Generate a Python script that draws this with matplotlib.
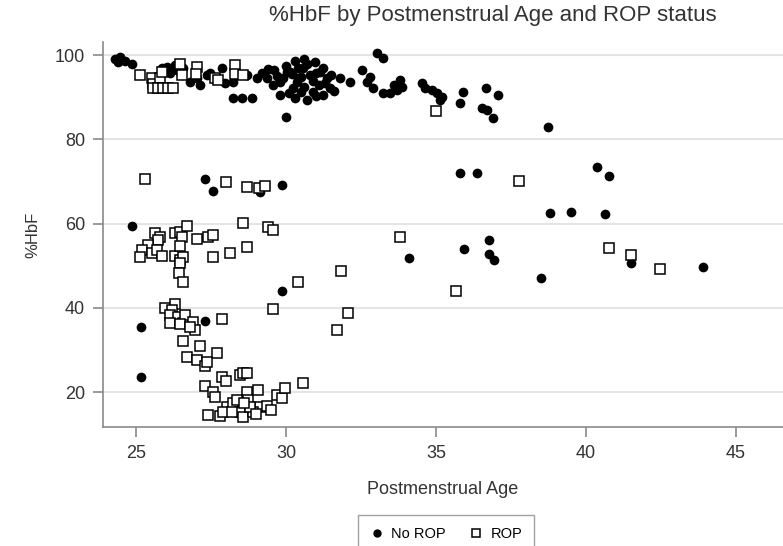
import matplotlib.pyplot as plt
from matplotlib.lines import Line2D

plt.rcParams['font.family'] = ['Liberation Sans', 'DejaVu Sans']

# No ROP (filled circles): postmenstrual age, %HbF
no_rop_age = [
    24.3, 24.47, 24.63, 24.87, 24.4,
    25.87, 26.03, 26.2, 26.3, 26.13, 26.37, 26.57, 26.8, 27.13, 27.03, 27.37, 27.97, 28.23,
    27.87, 27.47, 28.7, 29.03, 29.37, 29.57, 29.8, 30.03, 30.23, 30.4,
    28.23, 28.53, 28.87, 30.0,
    29.9, 30.13, 30.37, 30.57, 30.8, 30.97, 31.13, 31.23, 31.37, 31.47, 31.23, 30.9, 30.7,
    30.3, 31.8, 32.13, 32.53, 32.7, 32.9, 32.8,
    29.6, 29.7, 30.0, 30.2, 30.4, 30.5, 30.6, 30.7, 30.9, 31.0, 31.1, 31.3, 31.5, 31.6,
    30.1, 29.8, 30.5, 29.4, 29.2, 31.0, 30.3, 30.6,
    33.03, 33.23, 33.23, 33.47, 33.7, 33.8, 33.87, 33.6,
    34.53, 34.63, 34.87, 35.03, 35.2, 35.13,
    35.9, 35.8, 36.67, 37.07, 36.53, 36.7, 36.9, 38.73,
    27.3, 27.57, 29.13, 29.87, 24.87, 29.87, 35.8, 36.37, 38.8, 39.5, 40.37, 40.77,
    40.63, 41.5, 43.9, 38.5, 34.1, 35.93, 36.77, 36.77, 36.93, 25.17, 25.17, 27.3,
]
no_rop_hbf = [
    99.0, 99.5, 98.6, 97.9, 98.3,
    96.9, 97.1, 96.9, 97.6, 95.7, 96.4, 96.9, 93.6, 92.9, 94.5, 95.2, 93.3, 93.6,
    96.9, 95.7, 95.2, 94.5, 94.5, 92.9, 93.6, 96.0, 92.2, 94.5,
    89.8, 89.8, 89.8, 85.3,
    94.5, 96.0, 93.6, 96.9, 95.2, 98.3, 96.0, 96.9, 94.5, 92.2, 90.5, 91.2, 89.3,
    89.8, 94.5, 93.6, 96.4, 93.6, 92.2, 94.8,
    96.5, 95.0, 97.5, 95.5, 97.0, 94.8, 92.5, 97.8, 93.8, 95.8, 92.8, 93.3, 95.3, 91.5,
    91.0, 90.5, 91.3, 96.8, 95.8, 90.3, 98.5, 99.0,
    100.5, 99.3, 91.0, 91.0, 91.7, 94.0, 92.4, 93.0,
    93.4, 92.2, 91.7, 91.0, 90.0, 89.3,
    91.2, 88.6, 92.2, 90.5, 87.4, 86.9, 85.0, 82.9,
    70.5, 67.7, 67.5, 69.1, 59.4, 43.9, 72.0, 72.0, 62.5, 62.7, 73.4, 71.3,
    62.2, 50.6, 49.6, 47.0, 51.8, 53.9, 56.1, 52.7, 51.3, 35.4, 23.5, 36.8,
]

# ROP (hollow squares)
rop_age = [
    25.13, 25.53, 25.57, 25.8, 25.87, 25.57, 25.73, 25.9, 26.07, 26.23, 26.47, 27.03,
    28.3, 27.63, 27.73, 28.3, 28.57, 26.53, 27.0, 35.0,
    25.3, 28.0, 28.7, 29.1, 29.3, 28.57, 29.4, 29.57,
    25.63, 25.8, 25.73, 26.3, 26.47, 26.7, 26.53, 27.03, 27.4, 27.57,
    25.4, 25.2, 25.13, 25.53, 25.7, 25.87, 26.3, 26.47, 26.47, 26.57, 26.47, 26.43, 26.57,
    27.57, 28.13, 28.7, 30.4, 31.83,
    33.8, 35.67, 37.77, 40.77, 41.5, 42.47,
    32.07, 31.7, 29.57, 27.87,
    25.97, 26.3, 26.2, 26.13, 26.4, 26.57, 26.63, 26.9, 26.97, 26.57, 26.13, 26.47, 26.8,
    27.13, 26.7, 27.03, 27.3, 27.7, 27.37,
    27.87, 28.0, 28.47, 28.57, 28.7, 27.3, 27.57, 27.63,
    27.4, 27.8, 28.03, 28.23, 28.47, 28.7, 28.73, 29.07, 29.13, 29.37, 29.7, 29.87,
    29.97, 30.57, 28.57, 28.9, 27.9, 28.37, 28.2, 28.8, 29.0, 29.5, 28.6,
]
rop_hbf = [
    95.2, 94.5, 93.1, 94.5, 96.0, 92.3, 92.3, 92.3, 92.3, 92.3, 98.0, 97.1,
    97.6, 94.5, 94.1, 95.5, 95.2, 95.2, 95.5, 86.7,
    70.5, 69.8, 68.6, 68.4, 68.9, 60.1, 59.1, 58.4,
    57.7, 56.8, 56.1, 57.7, 58.0, 59.4, 56.8, 56.3, 56.8, 57.2,
    54.9, 53.7, 52.0, 53.0, 53.7, 52.3, 52.3, 54.6, 51.3, 52.0, 50.6, 48.2, 46.1,
    52.0, 53.0, 54.4, 46.1, 48.7,
    56.8, 43.9, 70.1, 54.2, 52.5, 49.2,
    38.8, 34.7, 39.7, 37.3,
    39.9, 40.9, 39.5, 38.3, 37.8, 36.3, 38.3, 36.6, 34.7, 32.1, 36.3, 36.1, 35.4,
    30.9, 28.3, 27.6, 26.1, 29.2, 27.1,
    23.5, 22.6, 24.0, 24.5, 24.5, 21.4, 20.0, 18.8,
    14.5, 14.3, 16.4, 17.4, 15.2, 20.0, 18.1, 20.5, 16.4, 16.6, 19.2, 18.5,
    20.9, 22.1, 14.0, 15.2, 15.2, 18.1, 15.2, 16.5, 14.8, 15.8, 17.5,
]

x_ticks = [25, 30, 35, 40, 45]
y_ticks = [20, 40, 60, 80, 100]

fig = plt.figure(figsize=(7.83, 5.46), dpi=100)
ax = fig.add_axes([0.1315, 0.218, 0.8685, 0.705])

ax.plot(no_rop_age, no_rop_hbf, 'o', color='black', ms=7, mew=0, zorder=3)
ax.plot(rop_age, rop_hbf, 's', mfc='white', mec='black', ms=6.5, mew=1.1, zorder=4)

ax.set_xlim(23.9, 46.57)
ax.set_ylim(11.7, 103.1)
ax.set_xticks(x_ticks)
ax.set_yticks(y_ticks)
ax.grid(axis='y', color='#e4e4e4', lw=1.5, zorder=0)
ax.set_axisbelow(True)

for side in ['top', 'right']:
    ax.spines[side].set_visible(False)
for side in ['left', 'bottom']:
    ax.spines[side].set_color('#8a8a8a')
    ax.spines[side].set_linewidth(1.2)
ax.tick_params(colors='#8a8a8a', length=7, width=1.2, labelcolor='#333333', labelsize=13, pad=6)

ax.set_xlabel('Postmenstrual Age', fontsize=13, color='#333333', labelpad=14)
ax.set_ylabel('%HbF', fontsize=12, color='#333333', labelpad=10)

fig.text(493 / 783, 1 - 16 / 546, '%HbF by Postmenstrual Age and ROP status',
         ha='center', va='center', fontsize=16, color='#333333')

handles = [
    Line2D([], [], ls='none', marker='o', color='black', ms=6, mew=0),
    Line2D([], [], ls='none', marker='s', mfc='white', mec='black', ms=6, mew=1.1),
]
leg = fig.legend(handles, ['No ROP', 'ROP'], loc='upper center', ncol=2,
                 bbox_to_anchor=(446 / 783, 1 - 508 / 546), fontsize=10.5,
                 frameon=True, fancybox=False, edgecolor='#8a8a8a',
                 handletextpad=0.5, columnspacing=1.6, borderpad=0.8, handlelength=1)
leg.get_frame().set_linewidth(1.0)

fig.savefig('out.png', dpi=100)
